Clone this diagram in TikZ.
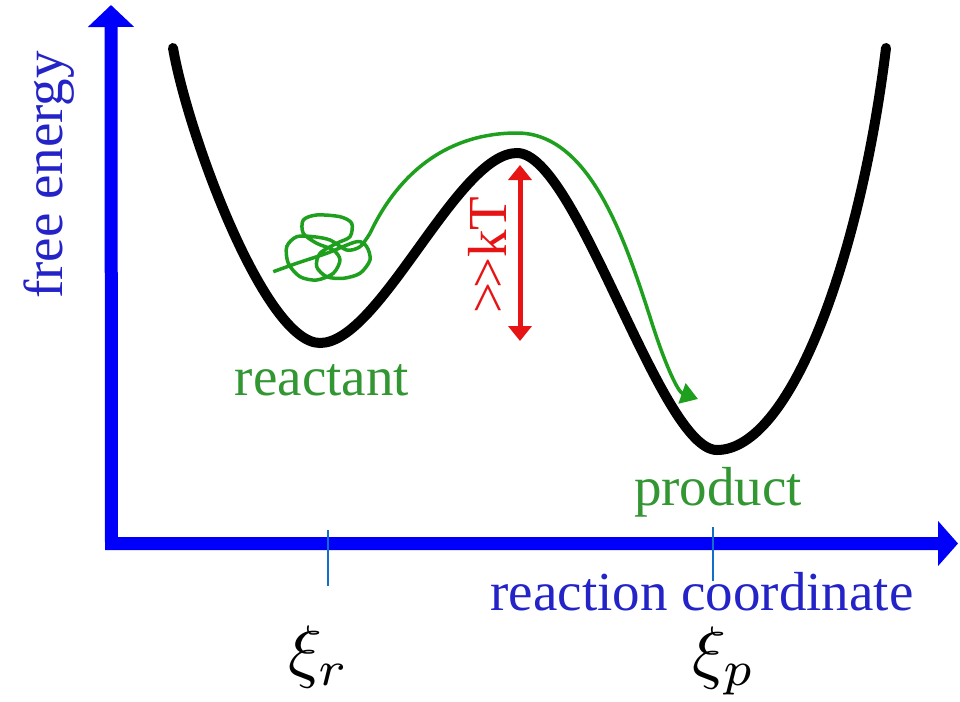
\documentclass[tikz,border=0pt]{standalone}
\usepackage{fontspec}
\setmainfont{Liberation Serif}
\newfontfamily\tnr{Liberation Serif}
\usetikzlibrary{arrows.meta}
\definecolor{axblue}{RGB}{0,0,250}
\definecolor{txtblue}{RGB}{35,35,200}
\definecolor{pathgreen}{RGB}{30,160,30}
\definecolor{txtgreen}{RGB}{50,150,50}
\definecolor{kred}{RGB}{230,20,20}
\definecolor{tickblue}{RGB}{20,110,200}
\tikzset{
  axis/.style={draw=axblue,line width=13pt,line join=miter},
  energy/.style={draw=black,line width=10pt,line cap=round},
  traj/.style={draw=pathgreen,line width=3.5pt,line join=round},
  barrier/.style={draw=kred,line width=5pt},
  ticky/.style={draw=tickblue,line width=2pt},
  lab/.style={inner sep=0pt,font=\tnr\fontsize{55}{66}\selectfont},
  mlab/.style={inner sep=0pt,scale=7}
}
\begin{document}
\begin{tikzpicture}[x=1pt,y=-1pt]
\useasboundingbox[fill=white] (0,0) rectangle (960,701);
% axes
\coordinate (ytip) at (111,5);
\coordinate (O) at (111.5,543.5);
\coordinate (xtip) at (958,543.5);
\draw[axis,{Triangle[length=22pt,width=45pt]}-{Triangle[length=20pt,width=44pt]}] (ytip) -- (O) -- (xtip);
% ticks
\coordinate (tr1) at (328,530); \coordinate (tr2) at (328,586);
\coordinate (tp1) at (713,527); \coordinate (tp2) at (713,581);
\draw[ticky] (tr1) -- (tr2);
\draw[ticky] (tp1) -- (tp2);
% energy curve
\coordinate (e0) at (173,48);
\coordinate (m1) at (320,343);
\coordinate (mx) at (517,153);
\coordinate (m2) at (717,450);
\coordinate (e1) at (886,48);
\draw[energy] (e0) .. controls (188,135) and (265,343) .. (m1)
  .. controls (380,343) and (457,153) .. (mx)
  .. controls (577,153) and (660,450) .. (m2)
  .. controls (790,450) and (860,260) .. (e1);
% trajectory
\coordinate (s1) at (370,233.3);
\coordinate (top) at (517,133);
\coordinate (mid) at (650,317);
\coordinate (tip) at (698,399);
\draw[traj] plot[smooth,tension=0.5] coordinates {
 (273.3,271.7) (296.7,263.3) (326.7,253.3) (356.7,241.7) (366.7,246.7) (370,260)
 (360,273.3) (343.3,278.3) (326.7,276.7) (316.7,266.7) (320,253.3) (336.7,243.3)
 (350,236.7) (351.7,223.3) (340,216.7) (316.7,215) (303.3,220) (303.3,233.3)
 (316.7,243.3) (333.3,250) (340,260) (333.3,273.3) (316.7,280) (300,276.7)
 (288.3,263.3) (286.7,246.7) (296.7,236.7) (313.3,236.7) (330,240) (346.7,250)
 (360,246.7) (370,233.3)};
\draw[traj,-{Triangle[length=17pt,width=21pt]}] (s1)
  .. controls (400,170) and (450,133) .. (top)
  .. controls (590,133) and (625,240) .. (mid)
  .. controls (665,365) and (678,392) .. (tip);
% barrier arrow
\coordinate (kt1) at (520,165);
\coordinate (kt2) at (520,341);
\draw[barrier,{Triangle[length=15pt,width=23pt]}-{Triangle[length=15pt,width=23pt]}] (kt1) -- (kt2);
\node[lab,text=kred,rotate=90,anchor=base] (kT) at (506,255) {>\kern-0.12em>kT};
% labels
\node[lab,text=txtblue,rotate=90,anchor=base] (fe) at (62,175) {free energy};
\node[lab,text=txtblue,anchor=base] (rc) at (702,610) {reaction coordinate};
\node[lab,text=txtgreen,anchor=base] (re) at (322,395) {reactant};
\node[lab,text=txtgreen,anchor=base] (pr) at (718,505) {product};
\node[mlab] (xr) at (319,657) {$\xi_r$};
\node[mlab] (xp) at (724,661) {$\xi_p$};
\end{tikzpicture}
\end{document}
